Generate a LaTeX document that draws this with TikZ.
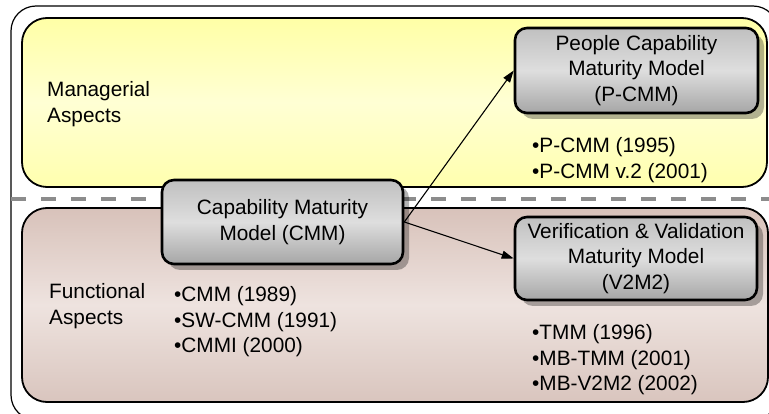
\documentclass[tikz,border=0pt]{standalone}
\usepackage{fontspec}
\setmainfont{Liberation Sans}
\usetikzlibrary{arrows.meta,shadows}
\definecolor{ylwTop}{HTML}{FFFFA6}
\definecolor{ylwMid}{HTML}{FFFFD4}
\definecolor{ylwBot}{HTML}{FFFFAE}
\definecolor{pnkTop}{HTML}{D8C2BA}
\definecolor{pnkMid}{HTML}{EEE3DF}
\definecolor{pnkBot}{HTML}{D9C5BE}
\definecolor{gryTop}{HTML}{C0C0C0}
\definecolor{gryMid}{HTML}{DEDEDE}
\definecolor{gryBot}{HTML}{A6A6A6}
\definecolor{dashGray}{HTML}{8C8C8C}
\tikzset{
  txt/.style={font=\fontsize{20.8}{25.5}\selectfont, inner sep=0pt},
  modelbox/.style={txt, draw=black, line width=2.6pt, rounded corners=12pt,
    align=center, top color=gryTop, bottom color=gryBot, middle color=gryMid,
    drop shadow={shadow xshift=6pt, shadow yshift=-6pt, opacity=0.3, fill=black}},
  area/.style={draw=black, line width=1.8pt, rounded corners=25pt},
  lbl/.style={txt, align=left, anchor=west},
  conn/.style={line width=1.1pt, -{Triangle[length=12pt,width=8pt]}},
}
\begin{document}
\begin{tikzpicture}[x=1pt,y=-1pt]
\useasboundingbox (0,0) rectangle (769,414);
\clip (0,0) rectangle (769,414);
% outer frame
\draw[black, line width=1.2pt, rounded corners=25pt, fill=white] (11,6) rectangle (778,420);
% managerial area
\draw[area, top color=ylwTop, bottom color=ylwBot, middle color=ylwMid] (22,18) rectangle (767,187);
% functional area
\draw[area, top color=pnkTop, bottom color=pnkBot, middle color=pnkMid] (22,208) rectangle (768,402);
% separator
\draw[dashGray, line width=4pt, dash pattern=on 15pt off 15pt] (11,199) -- (775,199);
% labels
\node[lbl] (mgr) at (47,104) {Managerial\\Aspects};
\node[lbl] (fun) at (49,306) {Functional\\Aspects};
\node[lbl] (cmmlist) at (174,322) {•CMM (1989)\\•SW-CMM (1991)\\•CMMI (2000)};
\node[lbl] (pcmmlist) at (532,160) {•P-CMM (1995)\\•P-CMM v.2 (2001)};
\node[lbl] (v2m2list) at (532,360) {•TMM (1996)\\•MB-TMM (2001)\\•MB-V2M2 (2002)};
% model boxes
\node[modelbox, minimum width=241pt, minimum height=84pt] (cmm) at (282.5,222) {Capability Maturity\\Model (CMM)};
\node[modelbox, minimum width=243pt, minimum height=85pt] (pcmm) at (636.5,70.5) {People Capability\\Maturity Model\\(P-CMM)};
\node[modelbox, minimum width=242pt, minimum height=83pt] (v2m2) at (636,258.5) {Verification \& Validation\\Maturity Model\\(V2M2)};
% connectors
\draw[conn] (cmm.east) -- (pcmm.west);
\draw[conn] (cmm.east) -- (v2m2.west);
\end{tikzpicture}
\end{document}
